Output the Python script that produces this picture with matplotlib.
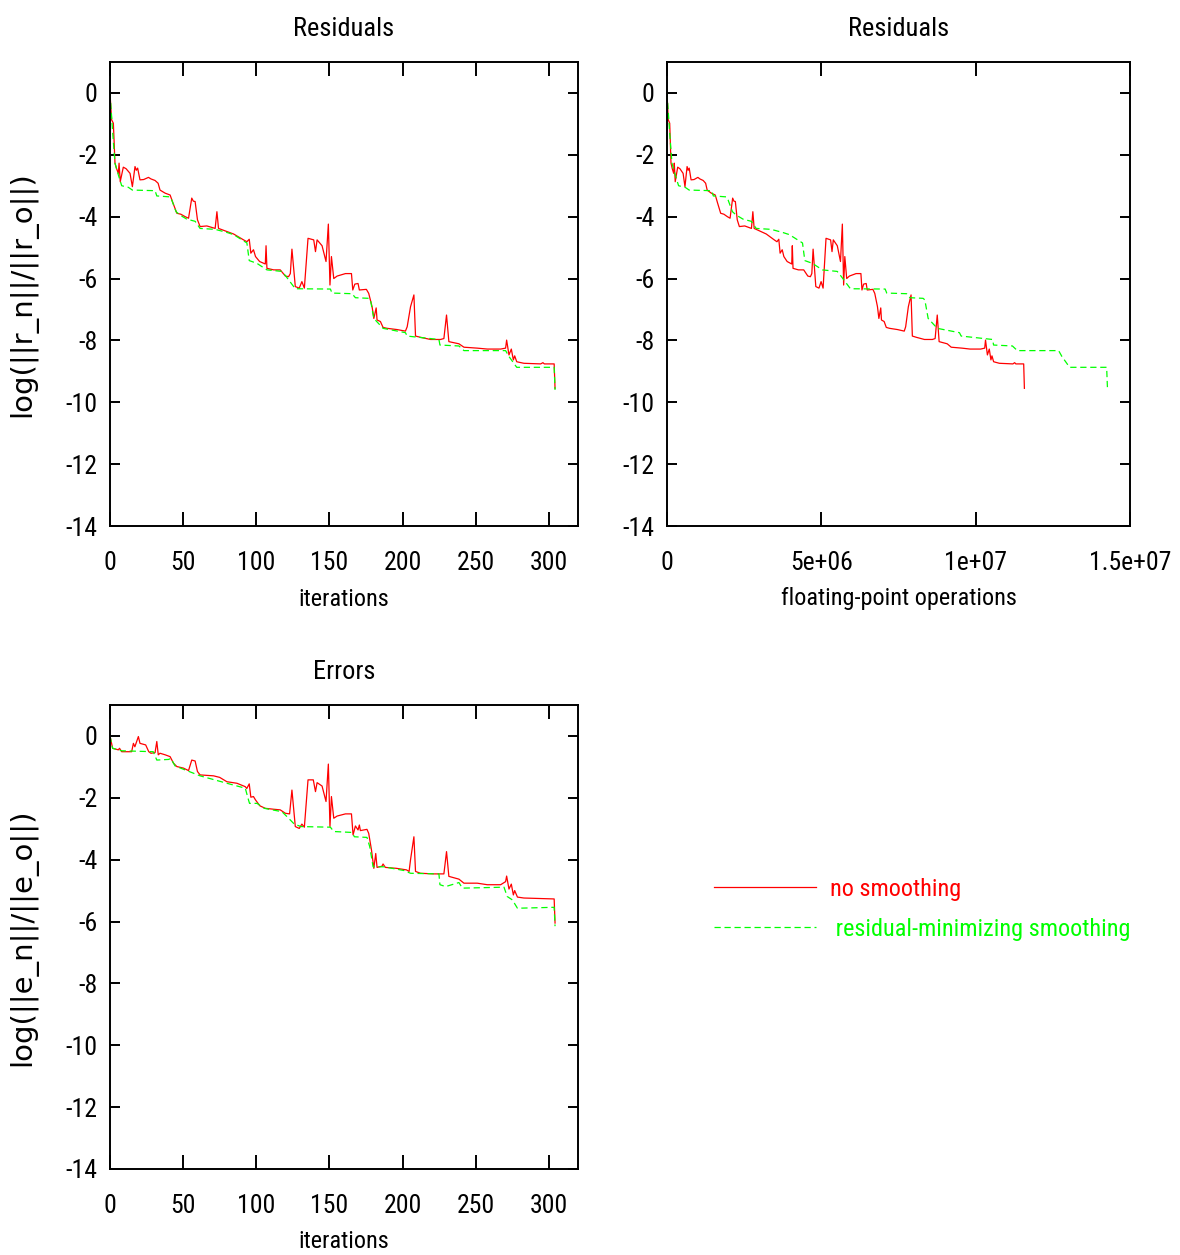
import matplotlib
matplotlib.use("Agg")
import numpy as np
import matplotlib.pyplot as plt

# =========================
# DATA
# =========================

# residuals vs iterations, no smoothing
res_none_it = [0, 1.1, 2.3, 3.4, 4.5, 5.7, 6.2, 7.0, 9.1, 11, 13.7, 15.3, 17.1, 18, 18.9, 20.5,
               23, 26.3, 28, 30.8, 32.9, 34.2, 37.7, 41.1, 43, 45.7, 48.4, 51.4, 53.7, 55.9, 57,
               58.2, 59.8, 61.6, 66.2, 71.9, 73.1, 74.2, 79.9, 84.5, 91.3, 93.6, 95.2, 96.3, 98.1,
               99.5, 102.3, 106.2, 106.7, 107.3, 111.9, 116.4, 119.9, 122.1, 123.3, 124.4, 126.7,
               129.4, 131.2, 132.9, 135.4, 139.3, 140.5, 141.6, 145.0, 147.7, 149.3, 150.4, 151.4,
               153.0, 155.3, 161.0, 165.1, 166.0, 167.4, 169.6, 170.5, 175.3, 176.9, 179.2, 180.4,
               182.0, 182.6, 184.9, 186.7, 189.5, 196.3, 202.0, 203.2, 205.5, 207.8, 208.9, 212.3,
               219.2, 226.0, 228.3, 230.1, 231.7, 238.6, 242.0, 251.1, 258.0, 267.1, 270.5, 271.2,
               272.8, 274.4, 275.8, 276.7, 278.1, 283.0, 294.5, 296, 297, 303.7, 304.3]
res_none = [0, -0.87, -0.98, -2.27, -2.45, -2.6, -2.27, -2.87, -2.40, -2.45, -2.6, -3.03, -2.38,
            -2.5, -2.43, -2.81, -2.80, -2.73, -2.78, -2.83, -2.92, -3.14, -3.24, -3.30, -3.55,
            -3.89, -3.92, -4.0, -4.05, -3.40, -3.5, -3.51, -4.10, -4.32, -4.30, -4.38, -3.84,
            -4.38, -4.48, -4.56, -4.75, -4.81, -4.73, -5.18, -5.07, -5.29, -5.45, -5.53, -4.94,
            -5.67, -5.72, -5.72, -5.92, -5.94, -5.84, -5.05, -6.26, -6.31, -6.10, -6.31, -4.70,
            -4.75, -5.13, -4.75, -4.94, -5.45, -4.24, -6.21, -5.29, -6.0, -5.92, -5.84, -5.84,
            -6.37, -6.18, -6.16, -6.37, -6.35, -6.48, -6.91, -7.29, -6.95, -7.34, -7.39, -7.58,
            -7.61, -7.65, -7.70, -7.56, -6.91, -6.53, -7.86, -7.90, -7.97, -7.97, -7.94, -7.18,
            -8.04, -8.11, -8.22, -8.25, -8.28, -8.28, -8.25, -7.99, -8.47, -8.28, -8.63, -8.50,
            -8.69, -8.74, -8.76, -8.72, -8.76, -8.76, -9.55]

# residuals vs iterations, residual-minimizing smoothing
res_rm_it = [0, 1.8, 3.4, 5.7, 8.0, 12.5, 15.3, 30.8, 32.0, 41.0, 42.2, 45.2, 47.9, 52.5, 58.2,
             61.6, 71.9, 79.9, 84.5, 93.6, 95.2, 100.5, 107.3, 117.6, 120.5, 126.7, 150.7, 151.8,
             165.5, 167.8, 176.9, 178.1, 180.4, 186.7, 202.0, 203.2, 224.9, 225.6, 238.6, 242.0,
             270.5, 272.8, 278.1, 303.7, 304.3]
res_rm = [0, -1.25, -2.27, -2.65, -3.0, -3.05, -3.14, -3.16, -3.33, -3.36, -3.46, -3.84, -3.95,
          -4.08, -4.15, -4.38, -4.41, -4.51, -4.58, -4.85, -5.42, -5.51, -5.72, -5.77, -5.94,
          -6.33, -6.34, -6.47, -6.49, -6.62, -6.64, -6.69, -7.29, -7.61, -7.75, -7.86, -7.97,
          -8.15, -8.18, -8.33, -8.33, -8.52, -8.87, -8.87, -9.60]

# errors vs iterations, no smoothing
err_none_it = [0, 1.8, 5.7, 6.5, 8, 14.8, 16.0, 17, 19.4, 20.5, 24.4, 26.5, 28, 30.8, 32.0, 33.0,
               34.2, 37.7, 41.1, 43.4, 45.7, 50.2, 53.7, 55.9, 58.2, 59.8, 61.6, 70.8, 75, 79.9,
               86.8, 92.5, 93.5, 95.2, 96.3, 98.1, 99.5, 102.5, 106.2, 111.9, 116.4, 119.9, 122.8,
               124.4, 126.7, 129.4, 131.2, 132.9, 135.4, 139.0, 140.5, 141.6, 145.0, 147.7, 149.3,
               150.4, 151.4, 153.0, 155.3, 161.0, 165.1, 166.2, 167.8, 169.6, 170.5, 171.2, 175.7,
               176.9, 178.8, 180.4, 181.7, 182.6, 186.0, 186.7, 188.3, 195.8, 202.7, 204.5, 205.5,
               207.8, 208.9, 212.3, 221.4, 228.3, 230.1, 231.7, 238.6, 242.0, 251.1, 258.0, 267.1,
               270.5, 271.2, 272.8, 274.4, 275.8, 276.7, 278.6, 283.0, 303.7, 304.3]
err_none = [0, -0.40, -0.45, -0.40, -0.51, -0.51, -0.24, -0.35, -0.02, -0.24, -0.29, -0.51, -0.56,
            -0.54, -0.18, -0.61, -0.56, -0.61, -0.67, -0.88, -0.99, -1.04, -1.12, -0.78, -0.81,
            -1.15, -1.26, -1.29, -1.34, -1.48, -1.53, -1.64, -1.70, -1.55, -1.98, -1.96, -2.07,
            -2.26, -2.34, -2.37, -2.39, -2.50, -2.52, -1.75, -2.93, -2.99, -2.85, -2.95, -1.42,
            -1.42, -1.80, -1.51, -1.62, -2.12, -0.91, -2.93, -1.96, -2.66, -2.59, -2.52, -2.52,
            -3.20, -2.91, -3.04, -2.88, -3.06, -3.02, -3.15, -3.69, -4.28, -3.80, -4.25, -4.21,
            -4.14, -4.25, -4.28, -4.33, -4.38, -4.0, -3.26, -4.38, -4.44, -4.46, -4.46, -3.74,
            -4.54, -4.63, -4.76, -4.76, -4.81, -4.81, -4.71, -4.53, -4.95, -4.79, -5.14, -5.0,
            -5.21, -5.24, -5.27, -6.05]

# errors vs iterations, residual-minimizing smoothing
err_rm_it = [0, 1.8, 8, 29.6, 32.0, 40.0, 41.6, 44.5, 52.5, 61.6, 79.9, 92.5, 94.7, 95.4, 100.5,
             105.5, 117.6, 122.1, 126.0, 130.6, 150.7, 153.0, 165.5, 167.1, 175.7, 177.6, 179.9,
             187.2, 200.9, 205.5, 224.9, 225.6, 229.5, 238.6, 240.9, 269.4, 271.6, 275.1, 278.6,
             303.7, 304.3]
err_rm = [0, -0.40, -0.48, -0.51, -0.78, -0.76, -0.73, -0.97, -1.12, -1.29, -1.53, -1.69, -2.07,
          -2.18, -2.18, -2.34, -2.45, -2.66, -2.85, -2.93, -2.95, -3.09, -3.12, -3.26, -3.28,
          -3.58, -4.23, -4.23, -4.35, -4.44, -4.46, -4.81, -4.87, -4.74, -4.92, -4.89, -5.19,
          -5.30, -5.57, -5.54, -6.15]

# cost of one iteration (floating-point operations)
FLOPS_PER_ITER_NONE = 3.805e4
FLOPS_PER_ITER_RM = 4.69e4

IT_TICKS = [0, 50, 100, 150, 200, 250, 300]
FLOP_TICKS = [0, 5e6, 1e7, 1.5e7]
FLOP_TICK_LABELS = ["0", "5e+06", "1e+07", "1.5e+07"]
Y_TICKS = [0, -2, -4, -6, -8, -10, -12, -14]

RED = "#ff0000"
GREEN = "#00ff00"

# =========================
# FIGURE
# =========================

plt.rcParams["font.family"] = ["Liberation Sans Narrow", "Roboto Condensed",
                               "DejaVu Sans Condensed", "Liberation Sans"]
plt.rcParams["font.size"] = 18.5
plt.rcParams["axes.unicode_minus"] = False

W, H = 1180, 1255
fig = plt.figure(figsize=(W / 100, H / 100), dpi=100)


def rect(l, t, r, b):
    return [l / W, 1 - b / H, (r - l) / W, (b - t) / H]


def style(ax):
    ax.set_ylim(-14, 1)
    ax.set_yticks(Y_TICKS)
    ax.tick_params(axis="x", direction="in", top=True, length=10, width=1.4, pad=18)
    ax.tick_params(axis="y", direction="in", right=True, length=7, width=1.4, pad=9)
    for s in ax.spines.values():
        s.set_linewidth(1.4)


def draw(ax, x1, y1, x2, y2):
    a, = ax.plot(x1, y1, color=RED, lw=0.9)
    b, = ax.plot(x2, y2, color=GREEN, lw=0.9, dashes=(5, 3))
    return a, b


ylabel_font = dict(family="DejaVu Sans", fontsize=21)
title_font = dict(fontsize=19, pad=19)
xlabel_font = dict(fontsize=17.5, labelpad=9)

# residuals vs iterations
ax1 = fig.add_axes(rect(110, 62, 578, 526))
l_red, l_green = draw(ax1, res_none_it, res_none, res_rm_it, res_rm)
style(ax1)
ax1.set_xlim(0, 320)
ax1.set_xticks(IT_TICKS)
ax1.set_title("Residuals", **title_font)
ax1.set_xlabel("iterations", **xlabel_font)
ax1.set_ylabel("log(||r_n||/||r_o||)", **ylabel_font)
ax1.yaxis.set_label_coords(-0.155, 0.5)

# residuals vs flops
ax2 = fig.add_axes(rect(667, 62, 1130, 526))
draw(ax2, np.array(res_none_it) * FLOPS_PER_ITER_NONE, res_none,
     np.array(res_rm_it) * FLOPS_PER_ITER_RM, res_rm)
style(ax2)
ax2.set_xlim(0, 1.5e7)
ax2.set_xticks(FLOP_TICKS)
ax2.set_xticklabels(FLOP_TICK_LABELS)
ax2.set_title("Residuals", **title_font)
ax2.set_xlabel("floating-point operations", **xlabel_font)

# errors vs iterations
ax3 = fig.add_axes(rect(110, 705, 578, 1169))
draw(ax3, err_none_it, err_none, err_rm_it, err_rm)
style(ax3)
ax3.set_xlim(0, 320)
ax3.set_xticks(IT_TICKS)
ax3.set_title("Errors", **title_font)
ax3.set_xlabel("iterations", **xlabel_font)
ax3.set_ylabel("log(||e_n||/||e_o||)", **ylabel_font)
ax3.yaxis.set_label_coords(-0.155, 0.5)

fig.legend([l_red, l_green], ["no smoothing", " residual-minimizing smoothing"],
           loc="upper left", bbox_to_anchor=(714 / W, 1 - 878 / H),
           frameon=False, fontsize=17.5, handlelength=4.2, handletextpad=0.57,
           labelspacing=0.68, borderpad=0, borderaxespad=0, labelcolor="linecolor")

fig.savefig("out.png", dpi=100)
